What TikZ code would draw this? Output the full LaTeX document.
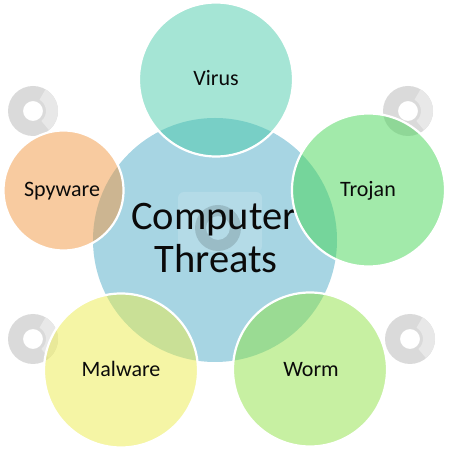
\documentclass[tikz,border=0pt]{standalone}
\usepackage{fontspec}
\setmainfont{Carlito}
\definecolor{centerblue}{RGB}{167,213,227}
\definecolor{virusc}{RGB}{75,203,171}
\definecolor{spyc}{RGB}{241,151,65}
\definecolor{trojc}{RGB}{69,213,85}
\definecolor{malc}{RGB}{235,235,75}
\definecolor{wormc}{RGB}{143,225,69}
\definecolor{ringgray}{RGB}{218,218,218}
\definecolor{ringlight}{RGB}{232,232,232}
\definecolor{inktext}{RGB}{10,10,10}
\begin{document}
\begin{tikzpicture}[x=1pt,y=1pt,
  bubble/.style={circle, inner sep=0pt, draw=white, line width=2.2pt, fill opacity=0.5, draw opacity=1},
  smalllabel/.style={anchor=base, text=inktext, font=\fontsize{22}{25}\selectfont, inner sep=0pt},
  biglabel/.style={anchor=base, text=inktext, font=\fontsize{40.5}{45}\selectfont, inner sep=0pt},
  wmring/.style={fill=ringgray, even odd rule}
]
\useasboundingbox (0,0) rectangle (448,450);
% watermark rings
\foreach \cx/\cy in {33/339, 408/339, 33/111, 410/111}{
  \fill[wmring] (\cx,\cy) circle (25) circle (10);
  \fill[ringlight] (\cx,\cy) ++(60:13) -- ++(60:12) arc (60:-50:25) -- ++(130:12) arc (-50:60:13) -- cycle;
}
% central circle
\node[circle, inner sep=0pt, minimum size=244pt, fill=centerblue] (center) at (215,210) {};
% central watermark
\fill[white, opacity=0.15, rounded corners=6pt] (178,198) rectangle (262,258);
\fill[black, opacity=0.14, even odd rule] (218,222) circle (23) circle (12);
\node[biglabel] (l1) at (214,220) {Computer};
\node[biglabel] (l2) at (216,177) {Threats};
% outer bubbles
\node[bubble, fill=virusc, minimum size=154pt] (virus) at (216,370.5) {};
\node[bubble, fill=spyc, minimum size=120pt] (spy) at (63.5,259.5) {};
\node[bubble, fill=trojc, minimum size=153pt] (troj) at (368.5,260) {};
\node[bubble, fill=malc, minimum size=154pt] (mal) at (121,79.5) {};
\node[bubble, fill=wormc, minimum size=154pt] (worm) at (310,80.5) {};
% labels
\node[smalllabel] (tv) at (216,364) {Virus};
\node[smalllabel] (ts) at (62,253) {Spyware};
\node[smalllabel] (tt) at (368,253) {Trojan};
\node[smalllabel] (tm) at (121,73) {Malware};
\node[smalllabel] (tw) at (311,73) {Worm};
\end{tikzpicture}
\end{document}
